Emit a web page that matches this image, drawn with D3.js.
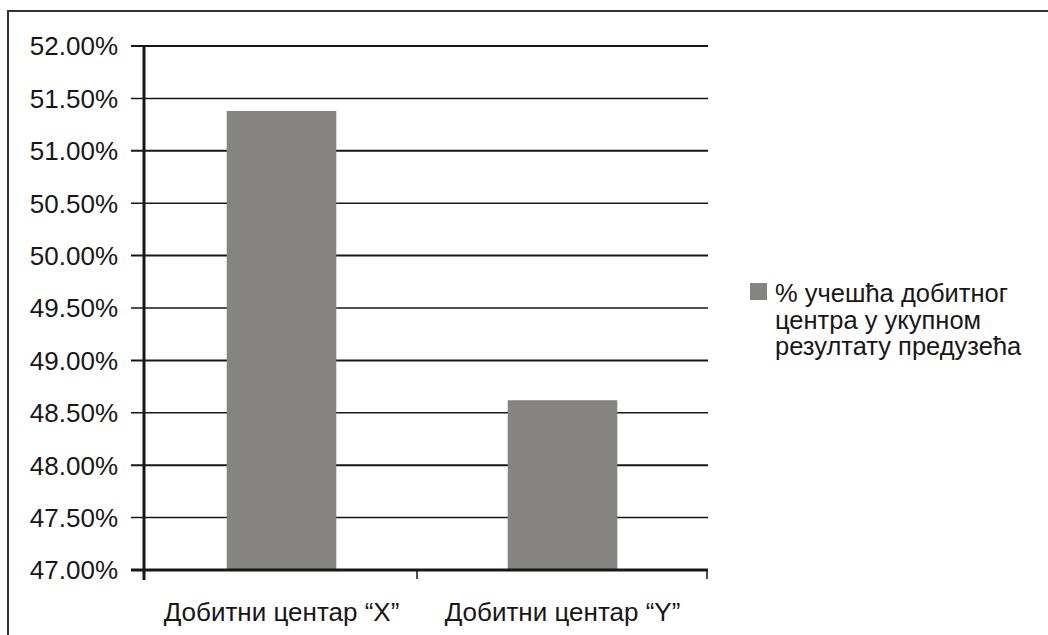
<!DOCTYPE html>
<html>
<head>
<meta charset="utf-8">
<script src="https://cdn.jsdelivr.net/npm/d3@7"></script>
<style>
  html, body { margin: 0; padding: 0; background: #fff; }
  svg { display: block; font-family: "Liberation Sans", Arial, sans-serif; }
</style>
</head>
<body>
<svg id="chart" width="1048" height="635"></svg>
<script>
// Share of each profit centre in the company's total result
const categories = ["Добитни центар “X”", "Добитни центар “Y”"];
const shares = [51.38, 48.62];
const yTicks = [47, 47.5, 48, 48.5, 49, 49.5, 50, 50.5, 51, 51.5, 52];
const legendLines = ["% учешћа добитног", "центра у укупном", "резултату предузећа"];

const svg = d3.select("#chart");
const ink = "#1a1616";
const barFill = "#858482";

// outer frame (top and left edges)
svg.append("path")
  .attr("d", "M8,635 V11 H1048")
  .attr("fill", "none")
  .attr("stroke", "#333")
  .attr("stroke-width", 2);

const plot = { left: 144, right: 708, top: 46, bottom: 570 };

const y = d3.scaleLinear().domain([47, 52]).range([plot.bottom, plot.top]);
const x = d3.scaleBand().domain(categories)
  .range([141, 703])
  .paddingInner(0.61)
  .paddingOuter(0.305);

// horizontal gridlines with their tick stubs
svg.append("g")
  .selectAll("line")
  .data(yTicks)
  .join("line")
  .attr("x1", 131)
  .attr("x2", plot.right)
  .attr("y1", d => y(d))
  .attr("y2", d => y(d))
  .attr("stroke", ink)
  .attr("stroke-width", (d, i) => (i % 2 === 0 ? 2 : 1.5));

// bars
svg.append("g")
  .selectAll("rect")
  .data(shares)
  .join("rect")
  .attr("x", (d, i) => x(categories[i]))
  .attr("width", x.bandwidth())
  .attr("y", d => y(d))
  .attr("height", d => y(47) - y(d))
  .attr("fill", barFill);

// y axis line
svg.append("line")
  .attr("x1", plot.left).attr("x2", plot.left)
  .attr("y1", plot.top).attr("y2", plot.bottom + 10)
  .attr("stroke", ink).attr("stroke-width", 3);

// x axis line and category boundary ticks
svg.append("line")
  .attr("x1", 131).attr("x2", plot.right)
  .attr("y1", plot.bottom).attr("y2", plot.bottom)
  .attr("stroke", ink).attr("stroke-width", 3);

svg.append("g")
  .selectAll("line")
  .data([417, 707])
  .join("line")
  .attr("x1", d => d)
  .attr("x2", d => d)
  .attr("y1", plot.bottom)
  .attr("y2", plot.bottom + 9)
  .attr("stroke", ink)
  .attr("stroke-width", 1.5);

// y tick labels
svg.append("g")
  .selectAll("text")
  .data(yTicks)
  .join("text")
  .attr("x", 118)
  .attr("y", d => y(d))
  .attr("dy", "0.36em")
  .attr("text-anchor", "end")
  .attr("font-size", 26)
  .attr("fill", ink)
  .text(d => d3.format(".2f")(d) + "%");

// category labels
svg.append("g")
  .selectAll("text")
  .data(categories)
  .join("text")
  .attr("x", d => x(d) + x.bandwidth() / 2)
  .attr("y", 621)
  .attr("text-anchor", "middle")
  .attr("font-size", 26)
  .attr("fill", ink)
  .text(d => d);

// legend
const legend = svg.append("g");
legend.append("rect")
  .attr("x", 750).attr("y", 283)
  .attr("width", 17).attr("height", 17)
  .attr("fill", barFill);
legend.selectAll("text")
  .data(legendLines)
  .join("text")
  .attr("x", 775)
  .attr("y", (d, i) => 302 + i * 26.5)
  .attr("font-size", 25.5)
  .attr("fill", ink)
  .text(d => d);
</script>
</body>
</html>
